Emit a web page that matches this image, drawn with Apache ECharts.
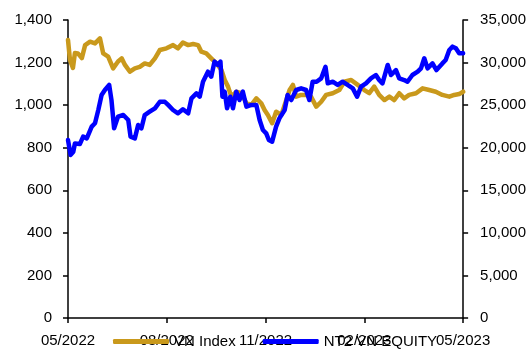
<!DOCTYPE html>
<html>
<head>
<meta charset="utf-8">
<script src="https://cdn.jsdelivr.net/npm/echarts@6/dist/echarts.min.js"></script>
<style>html,body{margin:0;padding:0;background:#fff;}#c{width:529px;height:350px;}</style>
</head>
<body>
<div id="c"></div>
<script>
// x positions in months since 05/2022
var xTickLabels = ['05/2022', '08/2022', '11/2022', '02/2023', '05/2023'];
var seriesNames = ['VN Index', 'NT2 VN EQUITY'];

var vnMonths = [0,0.06,0.15,0.21,0.30,0.42,0.52,0.67,0.82,0.97,1.07,1.22,1.37,1.52,1.63,1.73,1.88,2.03,2.18,2.33,2.48,2.64,2.79,2.99,3.19,3.34,3.49,3.65,3.80,3.95,4.05,4.20,4.35,4.51,4.66,4.76,4.86,4.96,5.11,5.26,5.42,5.57,5.72,5.87,5.97,6.07,6.20,6.32,6.48,6.63,6.73,6.83,6.93,7.08,7.23,7.38,7.54,7.69,7.84,8.04,8.24,8.39,8.60,8.80,9.00,9.15,9.30,9.45,9.61,9.76,9.91,10.06,10.21,10.36,10.57,10.77,10.97,11.17,11.37,11.58,11.73,11.88,12.0];
var vnValues = [1306,1212,1175,1245,1243,1221,1282,1298,1290,1314,1243,1228,1173,1205,1220,1189,1157,1173,1180,1196,1189,1220,1259,1267,1282,1267,1294,1282,1287,1282,1251,1243,1220,1196,1165,1118,1087,1040,1063,1056,1009,1001,1032,1009,977,954,915,969,954,1024,1071,1095,1040,1048,1048,1040,993,1016,1048,1056,1071,1110,1118,1095,1071,1056,1087,1048,1024,1040,1024,1056,1032,1048,1056,1079,1071,1063,1048,1040,1048,1052,1063];

var ntMonths = [0,0.08,0.16,0.21,0.36,0.46,0.57,0.72,0.82,0.92,1.02,1.12,1.25,1.32,1.40,1.52,1.68,1.83,1.90,2.03,2.13,2.23,2.33,2.48,2.64,2.79,2.94,3.04,3.19,3.34,3.49,3.65,3.75,3.90,4.00,4.10,4.25,4.35,4.45,4.55,4.63,4.69,4.76,4.83,4.93,5.01,5.11,5.21,5.31,5.42,5.57,5.72,5.82,5.92,6.02,6.10,6.20,6.32,6.42,6.58,6.67,6.78,6.93,7.08,7.23,7.33,7.43,7.55,7.69,7.82,7.89,8.04,8.19,8.34,8.49,8.65,8.78,8.90,9.05,9.20,9.35,9.45,9.55,9.71,9.81,9.96,10.06,10.21,10.31,10.46,10.62,10.72,10.82,10.92,11.07,11.19,11.37,11.47,11.58,11.68,11.78,11.88,12.0];
var ntValues = [20900,19150,19530,20500,20430,21300,21100,22470,22870,24430,26190,26780,27370,25600,22280,23650,23840,23250,21290,21100,22670,22280,23840,24230,24630,25400,25400,25020,24430,24040,24510,24040,25800,26390,25990,27750,28930,28340,30110,29720,30110,25990,26580,24630,25990,24630,26580,25600,26580,24820,25020,25020,23250,22080,21690,20910,20710,22470,23450,24430,26190,25600,26780,26970,26780,25600,27750,27750,28150,29510,27560,27750,27370,27750,27370,26970,25990,27170,27560,28150,28540,27950,27560,29720,28540,29120,28150,27950,27750,28540,28930,29320,30500,29320,29900,29120,29900,30300,31480,31870,31680,31090,31090];

function zip(xs, ys) { return xs.map(function (x, i) { return [x, ys[i]]; }); }
function fmt(v) { return Number(v).toLocaleString('en-US'); }

var FONT = 'Liberation Sans, Arial, sans-serif';
var GOLD = '#C9991C';
var BLUE = '#0000FF';
var axisLine = { show: true, lineStyle: { color: '#000', width: 1.5 } };
var axisTick = { show: true, length: 5, lineStyle: { color: '#000', width: 1.5 } };

var chart = echarts.init(document.getElementById('c'), null, { renderer: 'canvas' });
chart.setOption({
  animation: false,
  backgroundColor: '#fff',
  grid: { left: 68, right: 65, top: 20, bottom: 32, containLabel: false },
  legend: {
    data: seriesNames,
    left: 113, top: 334, padding: 0,
    icon: 'roundRect', itemWidth: 56, itemHeight: 5, itemGap: 27,
    textStyle: { fontFamily: FONT, fontSize: 15, color: '#000' }
  },
  xAxis: {
    type: 'value', min: 0, max: 12, interval: 3,
    axisLine: axisLine, axisTick: axisTick, splitLine: { show: false },
    axisLabel: { margin: 15, fontFamily: FONT, fontSize: 15, color: '#000',
      showMinLabel: true, showMaxLabel: true,
      formatter: function (v) { return xTickLabels[Math.round(v / 3)]; } }
  },
  yAxis: [
    { type: 'value', min: 0, max: 1400, interval: 200, position: 'left',
      axisLine: axisLine, axisTick: axisTick, splitLine: { show: false },
      axisLabel: { margin: 16, fontFamily: FONT, fontSize: 15, color: '#000', formatter: fmt } },
    { type: 'value', min: 0, max: 35000, interval: 5000, position: 'right',
      axisLine: axisLine, axisTick: axisTick, splitLine: { show: false },
      axisLabel: { margin: 17, fontFamily: FONT, fontSize: 15, color: '#000', formatter: fmt } }
  ],
  series: [
    { name: seriesNames[0], type: 'line', yAxisIndex: 0, data: zip(vnMonths, vnValues),
      showSymbol: false, symbol: 'none', color: GOLD,
      lineStyle: { color: GOLD, width: 4.5, join: 'round', cap: 'round' } },
    { name: seriesNames[1], type: 'line', yAxisIndex: 1, data: zip(ntMonths, ntValues),
      showSymbol: false, symbol: 'none', color: BLUE,
      lineStyle: { color: BLUE, width: 4.5, join: 'round', cap: 'round' } }
  ]
});
</script>
</body>
</html>
